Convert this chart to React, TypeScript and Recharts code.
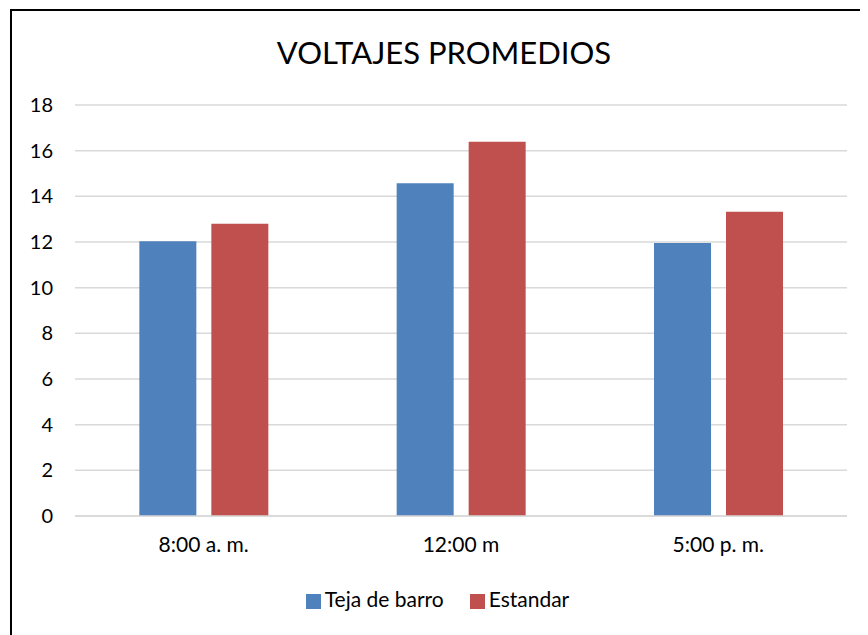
import { BarChart, Bar, XAxis, YAxis, CartesianGrid, Legend } from 'recharts'

const categories = ['8:00 a. m.', '12:00 m', '5:00 p. m.']
const tejaDeBarro = [12.03, 14.57, 11.96]
const estandar = [12.8, 16.39, 13.33]
const yTicks = [0, 2, 4, 6, 8, 10, 12, 14, 16, 18]
const seriesOrder = ['Teja de barro', 'Estandar']

const data = categories.map((c, i) => ({ name: c, teja: tejaDeBarro[i], estandar: estandar[i] }))

const FONT = 'Lato, "Open Sans", sans-serif'

export default function App() {
  return (
    <div
      style={{
        position: 'relative', width: 852, height: 624, marginLeft: 2, marginTop: 1,
        borderTop: '2px solid #000', borderLeft: '2px solid #000', borderRight: '2px solid #000',
        background: '#fff', fontFamily: FONT,
      }}
    >
      <div
        style={{
          position: 'absolute', top: 23, left: 232, width: 400, textAlign: 'center',
          fontSize: 31, color: '#000', lineHeight: '36px',
        }}
      >
        VOLTAJES PROMEDIOS
      </div>
      <BarChart
        width={852} height={624} data={data}
        margin={{ top: 94, right: 17, left: 0, bottom: 19 }}
        barCategoryGap="25%" barGap={15}
      >
        <CartesianGrid vertical={false} stroke="#d9d9d9" strokeWidth={1.5} />
        <XAxis
          dataKey="name" height={60} tickSize={0} tickMargin={21}
          axisLine={{ stroke: '#d9d9d9', strokeWidth: 1.5 }} tickLine={false}
          tick={{ fontSize: 21, fill: '#000', fontFamily: FONT }}
        />
        <YAxis
          width={63} domain={[0, 18]} ticks={yTicks} tickSize={0} tickMargin={22}
          axisLine={false} tickLine={false}
          tick={{ fontSize: 20, fill: '#000', fontFamily: FONT }}
        />
        <Legend
          iconType="square" iconSize={15}
          itemSorter={(item) => seriesOrder.indexOf(String(item.value))}
          wrapperStyle={{
            height: 40, paddingTop: 10, paddingLeft: 26, boxSizing: 'border-box',
            fontSize: 21, fontFamily: FONT, color: '#000',
          }}
          formatter={(v) => (
            <span style={{ color: '#000', marginRight: v === 'Teja de barro' ? 16 : 0 }}>{v}</span>
          )}
        />
        <Bar dataKey="teja" name="Teja de barro" fill="#4F81BD" isAnimationActive={false} />
        <Bar dataKey="estandar" name="Estandar" fill="#C0504D" isAnimationActive={false} />
      </BarChart>
    </div>
  )
}
